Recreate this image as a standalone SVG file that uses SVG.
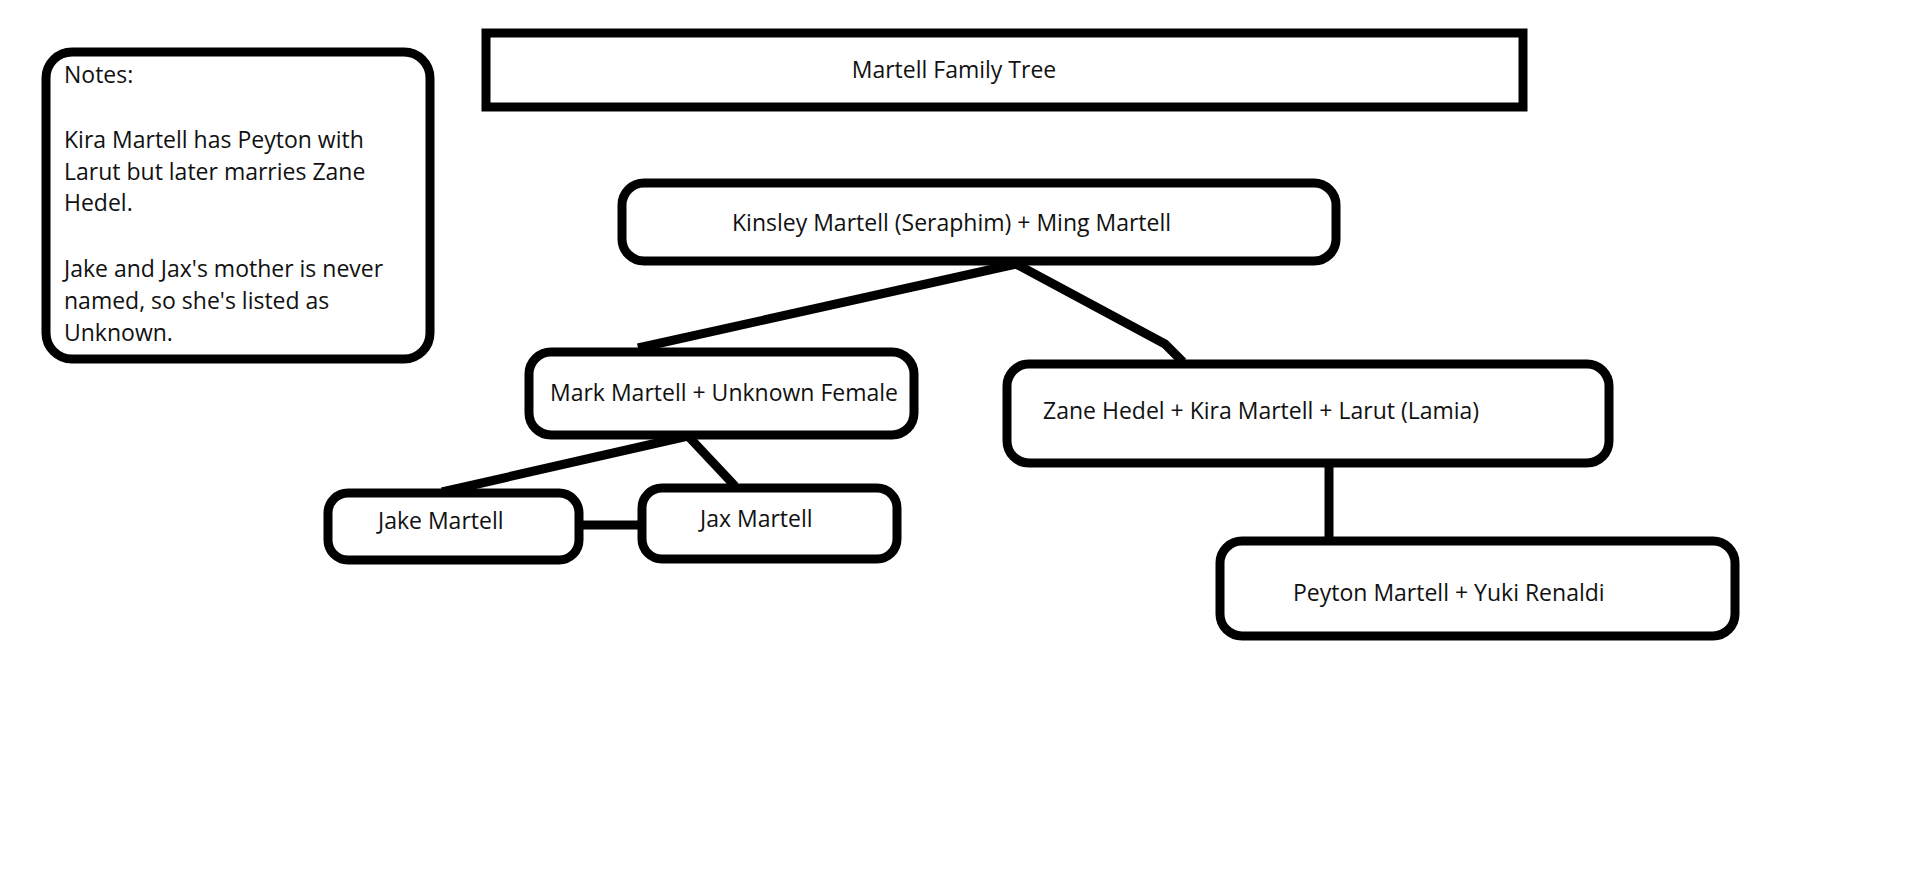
<svg xmlns="http://www.w3.org/2000/svg" width="1920" height="879" viewBox="0 0 1920 879">
<style>
.b{fill:#fff;stroke:#000;stroke-width:9}
.t{font-family:"Open Sans","Noto Sans",sans-serif;font-size:23px;fill:#111;dominant-baseline:central}
.c{stroke:#000;stroke-width:9;fill:none;stroke-linecap:butt}
</style>
<rect width="1920" height="879" fill="#fff"/>
<g id="connectors">
<line class="c" x1="1016" y1="264" x2="638" y2="348"/>
<polyline class="c" points="1016,264 1165,344 1183,362"/>
<line class="c" x1="688" y1="436" x2="442" y2="492"/>
<line class="c" x1="688" y1="436" x2="735" y2="486"/>
<line class="c" x1="579" y1="525" x2="644" y2="525"/>
<line class="c" x1="1329" y1="466" x2="1329" y2="540" stroke-width="8"/>
</g>
<g id="notes"><rect class="b" x="46" y="52" width="384" height="307" rx="26"/>
<text class="t" x="64" y="74">Notes:</text>
<text class="t" x="64" y="139">Kira Martell has Peyton with</text>
<text class="t" x="64" y="171">Larut but later marries Zane</text>
<text class="t" x="64" y="202">Hedel.</text>
<text class="t" x="64" y="268">Jake and Jax's mother is never</text>
<text class="t" x="64" y="300">named, so she's listed as</text>
<text class="t" x="64" y="332">Unknown.</text></g>
<g id="title"><rect class="b" x="486" y="33" width="1037" height="74"/>
<text class="t" x="954" y="69" text-anchor="middle">Martell Family Tree</text></g>
<g id="kinsley"><rect class="b" x="622" y="183" width="714" height="78" rx="22"/>
<text class="t" x="732" y="222">Kinsley Martell (Seraphim) + Ming Martell</text></g>
<g id="mark"><rect class="b" x="529" y="352" width="385" height="83" rx="22"/>
<text class="t" x="550" y="392">Mark Martell + Unknown Female</text></g>
<g id="zane"><rect class="b" x="1007" y="364" width="602" height="99" rx="22"/>
<text class="t" x="1043" y="410">Zane Hedel + Kira Martell + Larut (Lamia)</text></g>
<g id="jake"><rect class="b" x="328" y="493" width="251" height="67" rx="20"/>
<text class="t" x="378" y="520">Jake Martell</text></g>
<g id="jax"><rect class="b" x="642" y="488" width="255" height="71" rx="20"/>
<text class="t" x="700" y="518">Jax Martell</text></g>
<g id="peyton"><rect class="b" x="1220" y="541" width="515" height="95" rx="22"/>
<text class="t" x="1293" y="592">Peyton Martell + Yuki Renaldi</text></g>
</svg>
